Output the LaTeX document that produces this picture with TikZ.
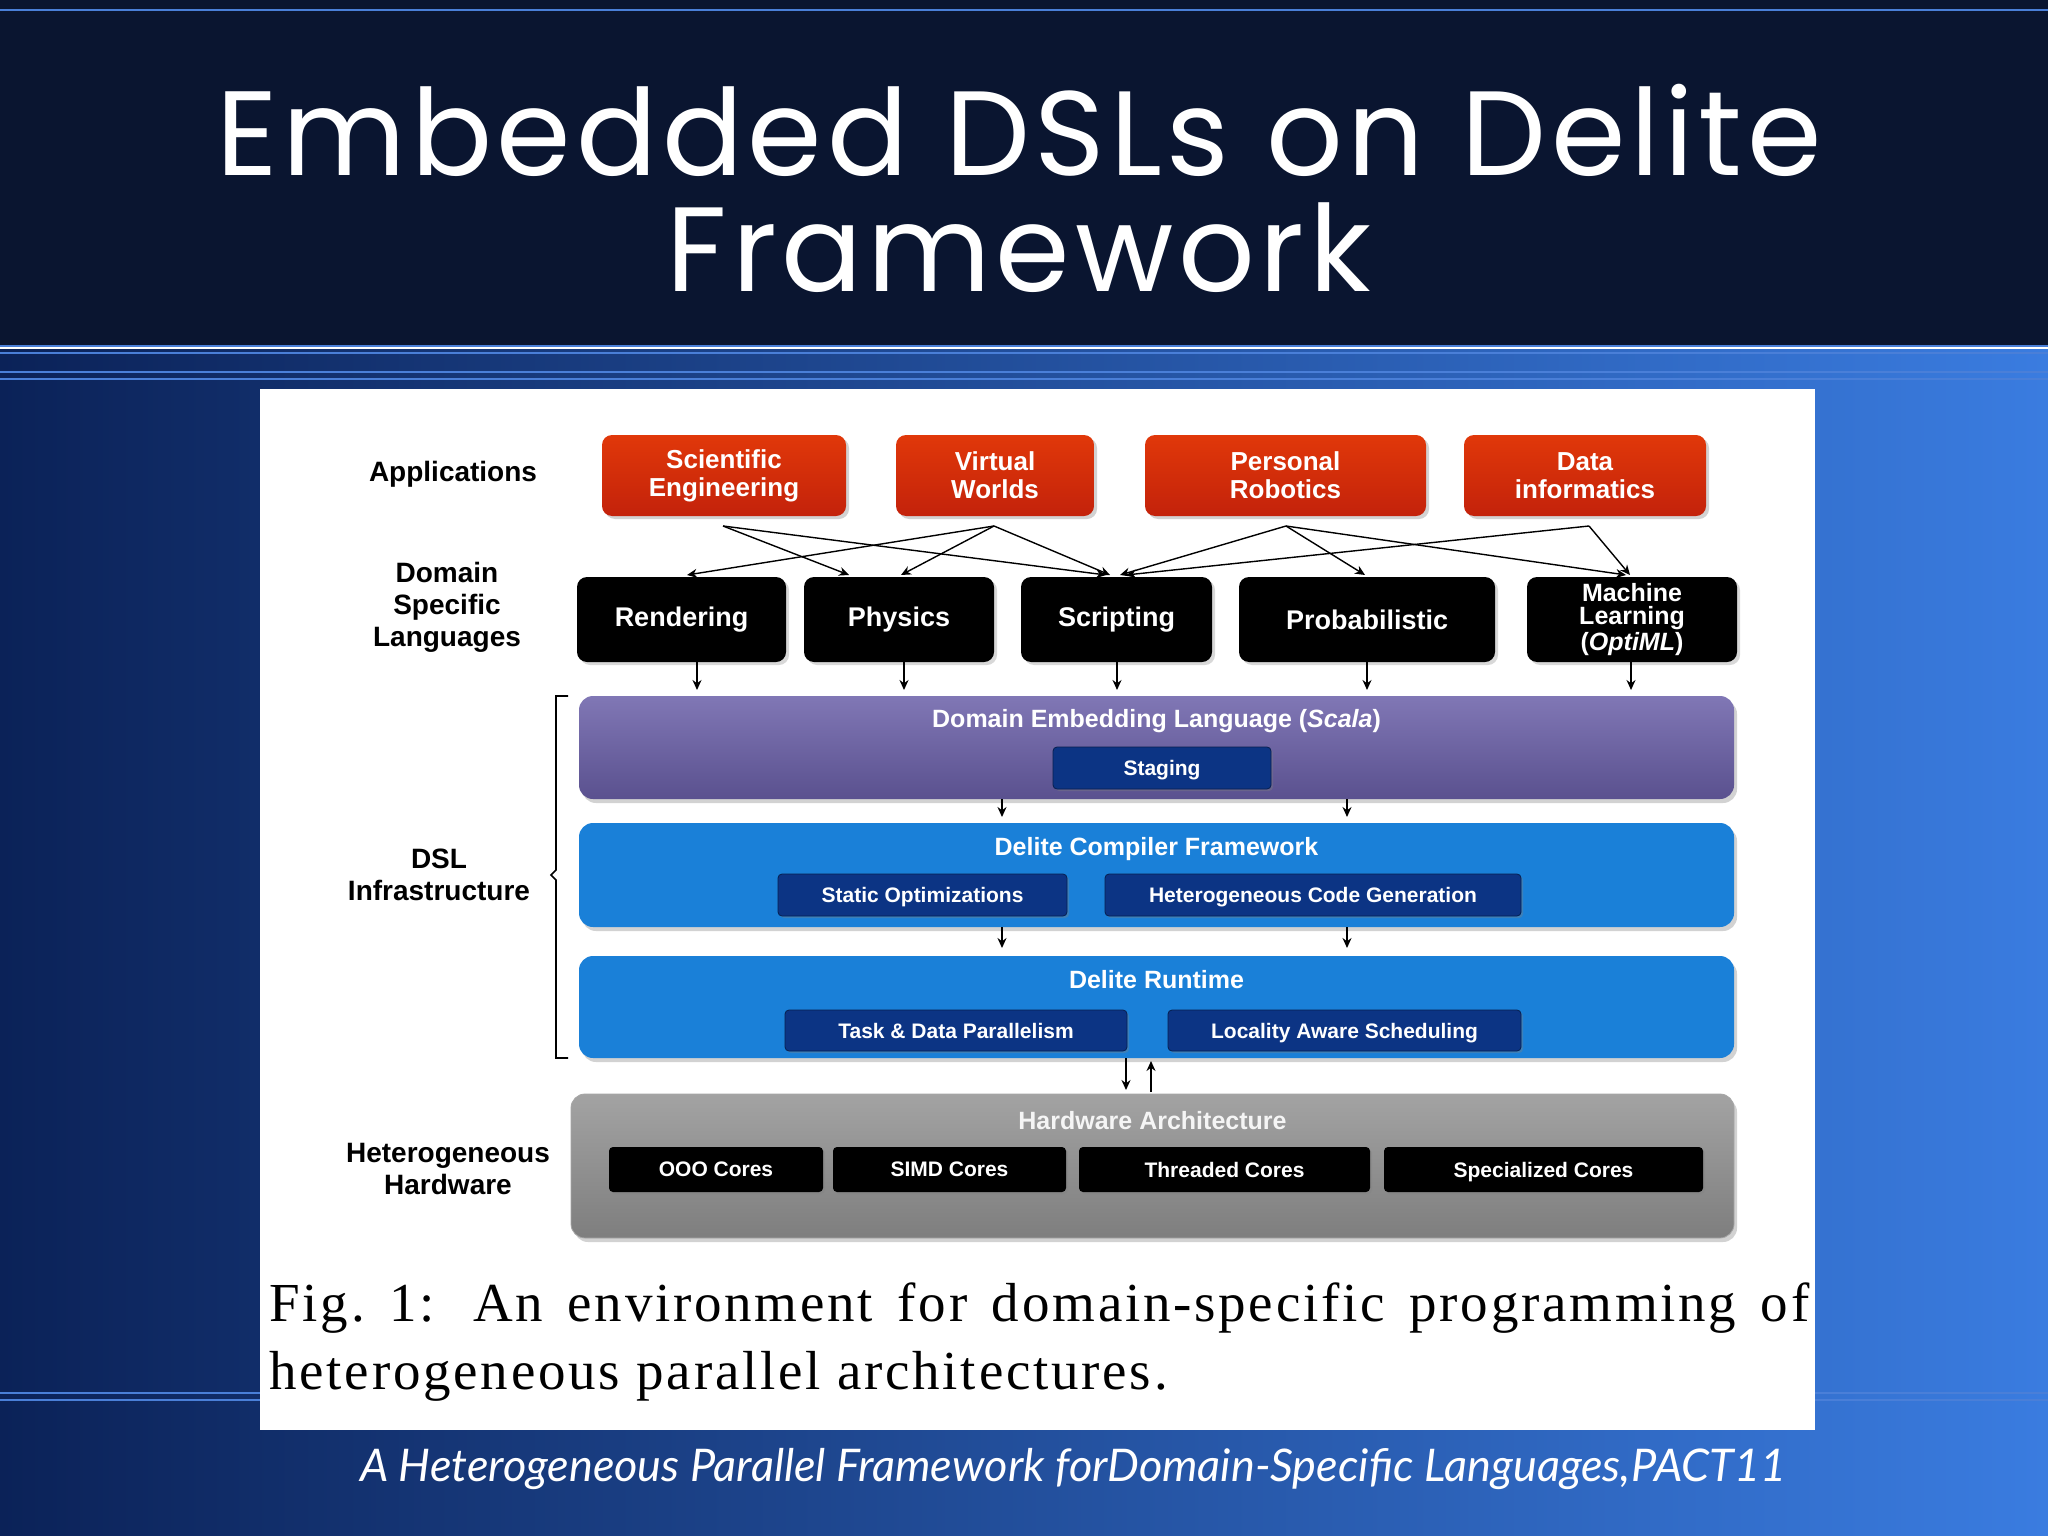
\documentclass[tikz,border=0pt]{standalone}
\usepackage{fontspec}
\setmainfont{Liberation Sans}
\newfontfamily\titlef[LetterSpace=4]{Poppins}
\newfontfamily\capf[LetterSpace=5]{Liberation Serif}
\newfontfamily\subf{Lato}
\usetikzlibrary{shadows,arrows.meta}
\definecolor{navy}{HTML}{0A1530}
\definecolor{appred}{HTML}{D9260C}
\definecolor{purp}{HTML}{6A5FA8}
\definecolor{lblue}{HTML}{1A80D8}
\definecolor{subnavy}{HTML}{0C3484}
\definecolor{hwgray}{HTML}{8C8C8C}
\definecolor{rule}{HTML}{4A7FD8}
\definecolor{bgl}{HTML}{0B2258}
\definecolor{bgr}{HTML}{3A7CE0}
\begin{document}
\begin{tikzpicture}[x=0.5pt,y=-0.5pt,
  sz/.style 2 args={minimum width=#1*0.5pt,minimum height=#2*0.5pt,inner sep=0pt},
  lab/.style={font=\bfseries\fontsize{14}{16}\selectfont,align=center,text=black},
  app/.style={rounded corners=5pt,top color=appred!80!orange,bottom color=appred!90!black,text=white,font=\bfseries\fontsize{13}{14}\selectfont,align=center,drop shadow={opacity=0.35,shadow xshift=1.5pt,shadow yshift=-1.5pt}},
  dsl/.style={rounded corners=5pt,fill=black,text=white,font=\bfseries\fontsize{13.5}{12.5}\selectfont,align=center,drop shadow={opacity=0.3,shadow xshift=1.5pt,shadow yshift=-1.5pt}},
  layer/.style={rounded corners=7pt,drop shadow={opacity=0.35,shadow xshift=1.5pt,shadow yshift=-2pt}},
  ltitle/.style={text=white,font=\bfseries\fontsize{12.5}{14}\selectfont},
  sub/.style={rounded corners=2pt,fill=subnavy,draw=subnavy!60!black,text=white,text depth=0pt,font=\bfseries\fontsize{10.5}{12}\selectfont,drop shadow={opacity=0.35,shadow xshift=1pt,shadow yshift=-1pt}},
  core/.style={rounded corners=2pt,fill=black,text=white,text depth=0pt,font=\bfseries\fontsize{10.5}{12}\selectfont,drop shadow={opacity=0.3,shadow xshift=1pt,shadow yshift=-1pt}},
  arr/.style={-{Stealth[length=5pt,width=4.5pt]},line width=0.7pt,black},
  ln/.style={line width=0.7pt,black,-{Stealth[length=5pt,width=4.5pt]}}]
\useasboundingbox (0,0) rectangle (2048,1535);
% background
\shade[left color=bgl,right color=bgr] (0,350) rectangle (2048,1535);
\fill[navy] (0,0) rectangle (2048,346);
\foreach \yy in {10,346,353,372,379,1393,1400}
  \draw[rule,line width=1pt] (0,\yy) -- (2048,\yy);
\node[text=white,font=\titlef\fontsize{60}{64}\selectfont,align=center] (title) at (1019,188) {Embedded DSLs on Delite\\[-6pt]Framework};
% white panel
\fill[white] (260,389) rectangle (1815,1430);
% labels
\node[lab] (lApp) at (453,474) {Applications};
\node[lab] (lDsl) at (447,607) {Domain\\Specific\\Languages};
\node[lab] (lInf) at (439,875) {DSL\\Infrastructure};
\node[lab] (lHw) at (448,1169) {Heterogeneous\\Hardware};
\draw[line width=0.8pt] (568,696) -- (556,696) -- (556,870) -- (551,875) -- (556,880) -- (556,1058) -- (568,1058);
% apps
\node[app,sz={244}{81}] (se) at (724,475.5) {Scientific\\Engineering};
\node[app,sz={198}{81}] (vw) at (995,475.5) {Virtual\\Worlds};
\node[app,sz={281}{81}] (pr) at (1285.5,475.5) {Personal\\Robotics};
\node[app,sz={242}{81}] (di) at (1585,475.5) {Data\\informatics};
% dsls
\node[dsl,sz={209}{85}] (ren) at (681.5,619.5) {Rendering};
\node[dsl,sz={190}{85}] (phy) at (899,619.5) {Physics};
\node[dsl,sz={191}{85}] (scr) at (1116.5,619.5) {Scripting};
\node[dsl,sz={256}{85}] (pro) at (1367,619.5) {Probabilistic};
\node[dsl,sz={210}{85},font=\bfseries\fontsize{12.5}{11.5}\selectfont] (ml) at (1632,619.5) {Machine\\Learning\\(\textit{OptiML})};
% app->dsl
\coordinate (seo) at (723,526); \coordinate (vwo) at (994,526);
\coordinate (pro0) at (1286,526); \coordinate (dio) at (1589,526);
\draw[ln] (seo) -- (849,575);
\draw[ln] (seo) -- (1106,575);
\draw[ln] (vwo) -- (687,575);
\draw[ln] (vwo) -- (901,575);
\draw[ln] (vwo) -- (1110,575);
\draw[ln] (pro0) -- (1120,575);
\draw[ln] (pro0) -- (1365,575);
\draw[ln] (pro0) -- (1626,575);
\draw[ln] (dio) -- (1126,575);
\draw[ln] (dio) -- (1630,575);
% layers
\node[layer,sz={1155}{103},top color=purp!85!white,bottom color=purp!85!black] (del) at (1156.5,747.5) {};
\node[ltitle] (delT) at (1156.5,721) {Domain Embedding Language (\textit{Scala})};
\node[sub,sz={218}{42}] (stg) at (1162,768) {Staging};
\node[layer,sz={1155}{104},fill=lblue] (dcf) at (1156.5,875) {};
\node[ltitle] (dcfT) at (1156.5,849) {Delite Compiler Framework};
\node[sub,sz={289}{42}] (so) at (922.5,895) {Static Optimizations};
\node[sub,sz={416}{42}] (hcg) at (1313,895) {Heterogeneous Code Generation};
\node[layer,sz={1155}{102},fill=lblue] (drt) at (1156.5,1007) {};
\node[ltitle] (drtT) at (1156.5,980) {Delite Runtime};
\node[sub,sz={342}{41}] (tdp) at (956,1030.5) {Task \& Data Parallelism};
\node[sub,sz={353}{41}] (las) at (1344.5,1030.5) {Locality Aware Scheduling};
\node[layer,sz={1163}{144},top color=hwgray!80!white,bottom color=hwgray!90!black,draw=gray!70] (hw) at (1152.5,1166) {};
\node[ltitle,text=white!92!gray] (hwT) at (1152.5,1121) {Hardware Architecture};
\node[core,sz={214}{45}] (ooo) at (716,1169.5) {OOO Cores};
\node[core,sz={233}{45}] (simd) at (949.5,1169.5) {SIMD Cores};
\node[core,sz={291}{45}] (thr) at (1224.5,1169.5) {Threaded Cores};
\node[core,sz={319}{45}] (spc) at (1543.5,1169.5) {Specialized Cores};
% dsl -> del
\foreach \n/\xx in {ren/697,phy/904,scr/1117,pro/1367,ml/1631}
  \draw[arr] (\n.south -| \xx,0) -- (\xx,690);
\draw[arr] (1002,799) -- (1002,817);
\draw[arr] (1347,799) -- (1347,817);
\draw[arr] (1002,927) -- (1002,948);
\draw[arr] (1347,927) -- (1347,948);
\draw[arr] (1126,1058) -- (1126,1090);
\draw[arr] (1151,1092) -- (1151,1061);
% caption
\node[anchor=north west,text width=770pt,align=justify,inner sep=0pt,font=\capf\fontsize{27.5}{34}\selectfont] (cap) at (269,1282) {Fig.\ 1: An environment for domain-specific programming of\linebreak heterogeneous parallel architectures.};
\node[text=white,font=\subf\itshape\fontsize{22.5}{26}\selectfont,anchor=west] (src) at (353,1469) {A Heterogeneous Parallel Framework forDomain-Specific Languages,PACT11};
\end{tikzpicture}
\end{document}
